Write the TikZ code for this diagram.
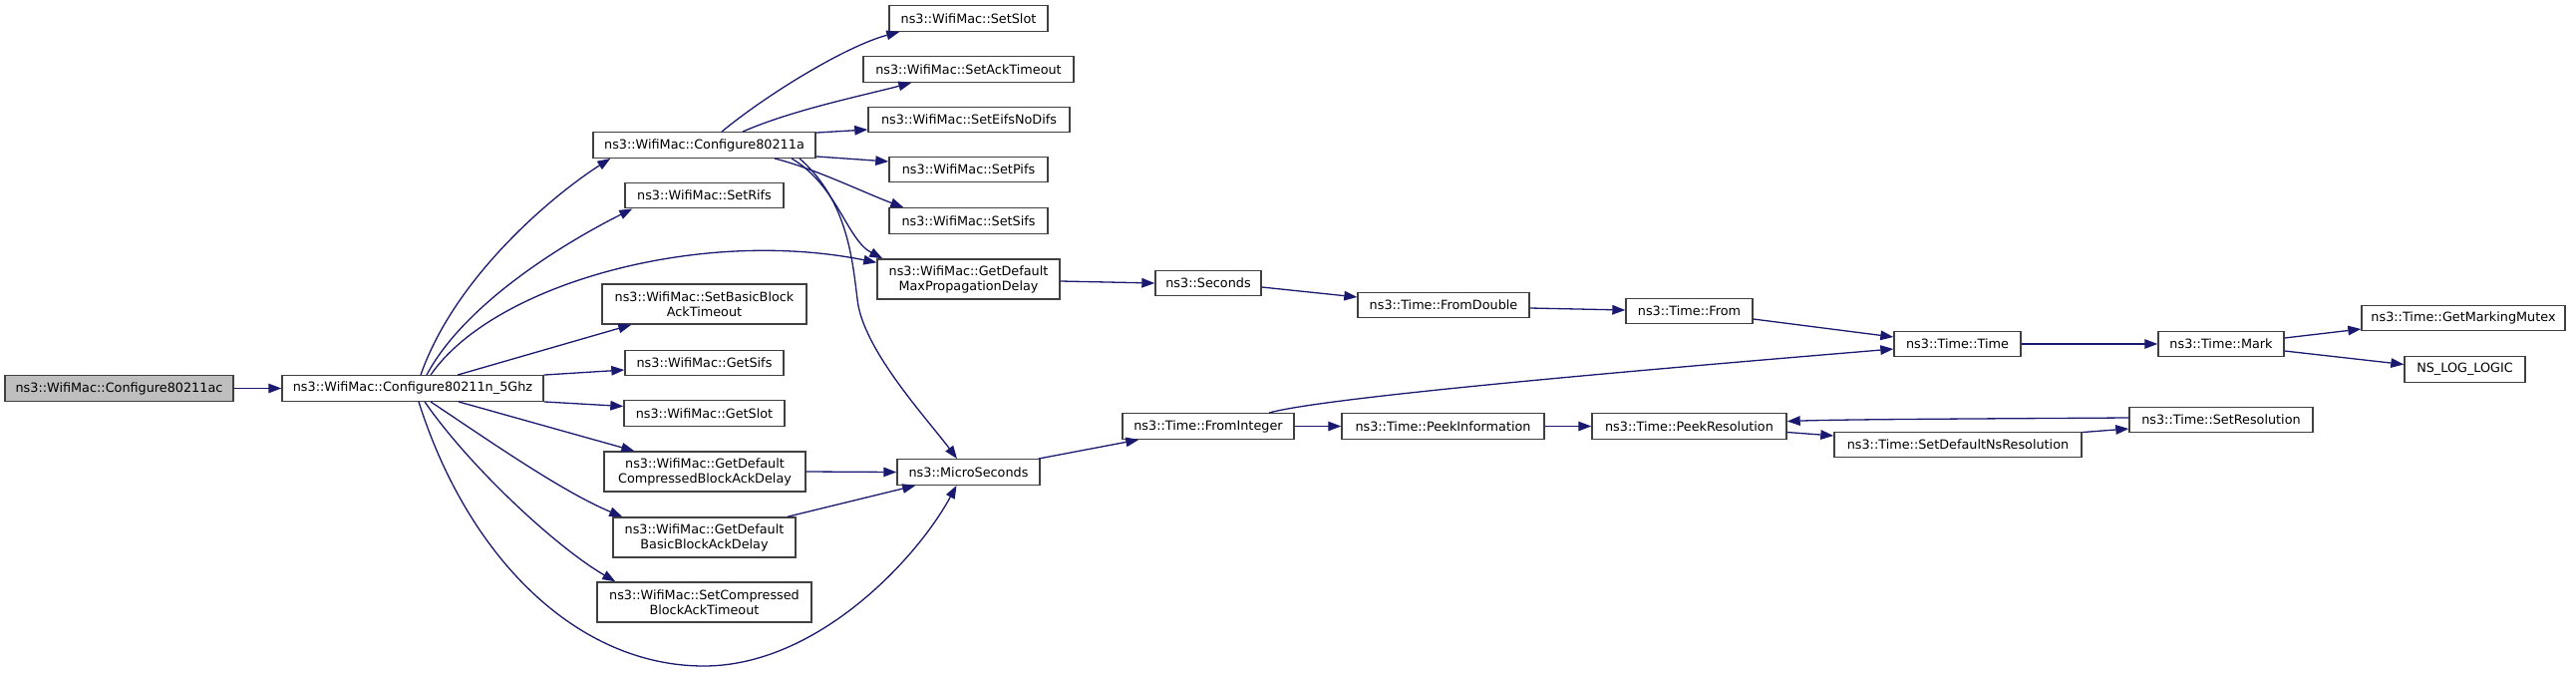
\documentclass[tikz,border=0pt]{standalone}
\usepackage{fontspec}
\setmainfont{DejaVu Sans}
\usetikzlibrary{arrows.meta,calc}
\definecolor{edgec}{HTML}{191970}
\definecolor{boxc}{HTML}{404040}
\definecolor{rootc}{HTML}{BFBFBF}
\tikzset{
  box/.style={draw=boxc, line width=1.4pt, fill=white, inner sep=0pt,
    minimum height=25.5pt, align=center,
    font=\fontsize{12.8}{15}\selectfont},
  boxtwo/.style={box, minimum height=40pt},
  conn/.style={draw=edgec, line width=1.3pt, -{Triangle[length=13pt,width=9.5pt]}},
}
\begin{document}
\begin{tikzpicture}[x=1pt,y=-1pt]
\useasboundingbox (0,0) rectangle (2584,675);
\fill[white] (0,0) rectangle (2584,675);
% nodes
\node[box, fill=rootc, minimum width=229pt] (ac) at (119.5,389.5) {ns3::WifiMac::Configure80211ac};
\node[box, minimum width=262pt] (n5) at (414,389.5) {ns3::WifiMac::Configure80211n\_5Ghz};
\node[box, minimum width=223pt] (c11a) at (706.5,145.5) {ns3::WifiMac::Configure80211a};
\node[box, minimum width=159pt] (rifs) at (706.5,196) {ns3::WifiMac::SetRifs};
\node[boxtwo, minimum width=205pt] (basicto) at (706.5,305) {ns3::WifiMac::SetBasicBlock\\AckTimeout};
\node[box, minimum width=159pt] (gsifs) at (706.5,364) {ns3::WifiMac::GetSifs};
\node[box, minimum width=161pt] (gslot) at (706.5,414.5) {ns3::WifiMac::GetSlot};
\node[boxtwo, minimum width=202pt] (gcomp) at (707,473) {ns3::WifiMac::GetDefault\\CompressedBlockAckDelay};
\node[boxtwo, minimum width=183pt] (gbasic) at (706.5,539) {ns3::WifiMac::GetDefault\\BasicBlockAckDelay};
\node[boxtwo, minimum width=215pt] (setcomp) at (706.5,604) {ns3::WifiMac::SetCompressed\\BlockAckTimeout};
\node[box, minimum width=159pt] (sslot) at (971.5,18.5) {ns3::WifiMac::SetSlot};
\node[box, minimum width=211pt] (sack) at (971.5,69.5) {ns3::WifiMac::SetAckTimeout};
\node[box, minimum width=202pt] (seifs) at (972,120) {ns3::WifiMac::SetEifsNoDifs};
\node[box, minimum width=159pt] (spifs) at (971.5,170) {ns3::WifiMac::SetPifs};
\node[box, minimum width=159pt] (ssifs) at (971.5,221.5) {ns3::WifiMac::SetSifs};
\node[boxtwo, minimum width=183pt] (maxprop) at (971.5,280) {ns3::WifiMac::GetDefault\\MaxPropagationDelay};
\node[box, minimum width=143pt] (micro) at (971.5,473.5) {ns3::MicroSeconds};
\node[box, minimum width=106pt] (secs) at (1212,284) {ns3::Seconds};
\node[box, minimum width=172pt] (fromint) at (1212,427.5) {ns3::Time::FromInteger};
\node[box, minimum width=172pt] (fromdbl) at (1448,306) {ns3::Time::FromDouble};
\node[box, minimum width=203pt] (peekinfo) at (1447.5,427.5) {ns3::Time::PeekInformation};
\node[box, minimum width=127pt] (from) at (1694.5,312) {ns3::Time::From};
\node[box, minimum width=195pt] (peekres) at (1694.5,427.5) {ns3::Time::PeekResolution};
\node[box, minimum width=127pt] (ttime) at (1963.5,345) {ns3::Time::Time};
\node[box, minimum width=248pt] (setdefns) at (1964,446) {ns3::Time::SetDefaultNsResolution};
\node[box, minimum width=126pt] (mark) at (2228,345) {ns3::Time::Mark};
\node[box, minimum width=184pt] (setres) at (2228,421) {ns3::Time::SetResolution};
\node[box, minimum width=204pt] (mutex) at (2471,319) {ns3::Time::GetMarkingMutex};
\node[box, minimum width=121pt] (nslog) at (2472.5,370.5) {NS\_LOG\_LOGIC};
% connectors
\draw[conn] (ac.east) -- (n5.west);
\draw[conn] ($(n5.north)+(8,0)$) .. controls +(35,-100) and +(-55,35) .. ($(c11a.south west)+(18,0)$);
\draw[conn] ($(n5.north)+(14,0)$) .. controls +(40,-75) and +(-60,30) .. ($(rifs.south west)+(8,0)$);
\draw[conn] ($(n5.north)+(18,0)$) .. controls +(62,-90) and +(-180,-36) .. ($(maxprop.north west)+(0,4)$);
\draw[conn] ($(n5.north)+(45,0)$) -- ($(basicto.south west)+(30,0)$);
\draw[conn] (n5.north east) -- ($(gsifs.west)+(0,7)$);
\draw[conn] (n5.south east) -- ($(gslot.west)+(0,-7)$);
\draw[conn] ($(n5.south)+(46,0)$) -- ($(gcomp.north west)+(31,0)$);
\draw[conn] ($(n5.south)+(18,0)$) .. controls +(60,40) and +(-60,-25) .. ($(gbasic.north west)+(10,0)$);
\draw[conn] ($(n5.south)+(12,0)$) .. controls +(45,65) and +(-60,-35) .. ($(setcomp.north west)+(19,0)$);
\draw[conn] ($(n5.south)+(6,0)$) .. controls +(50,158) and (580,668) .. (706,668)
  .. controls (820,668) and (920,560) .. ($(micro.south)+(-12,0)$);
\draw[conn] ($(c11a.north)+(17.5,0)$) .. controls +(46,-38) and +(-53,14) .. ($(sslot.south west)+(11,0)$);
\draw[conn] ($(c11a.north)+(38.5,0)$) .. controls +(50,-22) and +(-45,12) .. ($(sack.south west)+(49,0)$);
\draw[conn] ($(c11a.north east)+(0,1)$) -- ($(seifs.west)+(0,10)$);
\draw[conn] ($(c11a.south east)+(0,-2)$) -- ($(spifs.west)+(0,-8)$);
\draw[conn] ($(c11a.south)+(70.5,0)$) .. controls +(40,10) and +(-40,-15) .. ($(ssifs.north west)+(15,0)$);
\draw[conn] ($(c11a.south)+(87.5,0)$) .. controls +(46,27) and +(-36,-19) .. ($(maxprop.north west)+(6,0)$);
\draw[conn] ($(c11a.south)+(95.5,0)$) .. controls +(48,42) and (855,260) .. (860,300)
  .. controls (865,350) and (930,420) .. ($(micro.north)+(-11.5,0)$);
\draw[conn] ($(maxprop.east)+(0,2)$) -- (secs.west);
\draw[conn] ($(secs.east)+(0,4)$) -- ($(fromdbl.west)+(0,-8)$);
\draw[conn] ($(fromdbl.east)+(0,3)$) -- ($(from.west)+(0,-1)$);
\draw[conn] ($(from.east)+(0,8)$) -- ($(ttime.west)+(0,-7)$);
\draw[conn] ($(fromint.north)+(61,0)$) .. controls +(57,-16) and +(-240,20) .. ($(ttime.west)+(0,5)$);
\draw[conn] (fromint.east) -- (peekinfo.west);
\draw[conn] (peekinfo.east) -- (peekres.west);
\draw[conn] ($(peekres.east)+(0,6)$) -- ($(setdefns.west)+(0,-9)$);
\draw[conn] ($(setdefns.north east)+(0,1)$) -- ($(setres.west)+(0,9)$);
\draw[conn] ($(setres.west)+(0,-2)$) .. controls +(-150,1) and +(60,-2) .. ($(peekres.east)+(0,-5)$);
\draw[conn] (ttime.east) -- (mark.west);
\draw[conn] ($(mark.east)+(0,-6)$) -- ($(mutex.west)+(0,11)$);
\draw[conn] ($(mark.east)+(0,7)$) -- ($(nslog.west)+(0,-5)$);
\draw[conn] (gcomp.east) -- (micro.west);
\draw[conn] ($(gbasic.north east)+(-9,0)$) -- ($(micro.south west)+(19,0)$);
\draw[conn] ($(micro.north east)+(-2,0)$) -- ($(fromint.south west)+(17,0)$);
\end{tikzpicture}
\end{document}
